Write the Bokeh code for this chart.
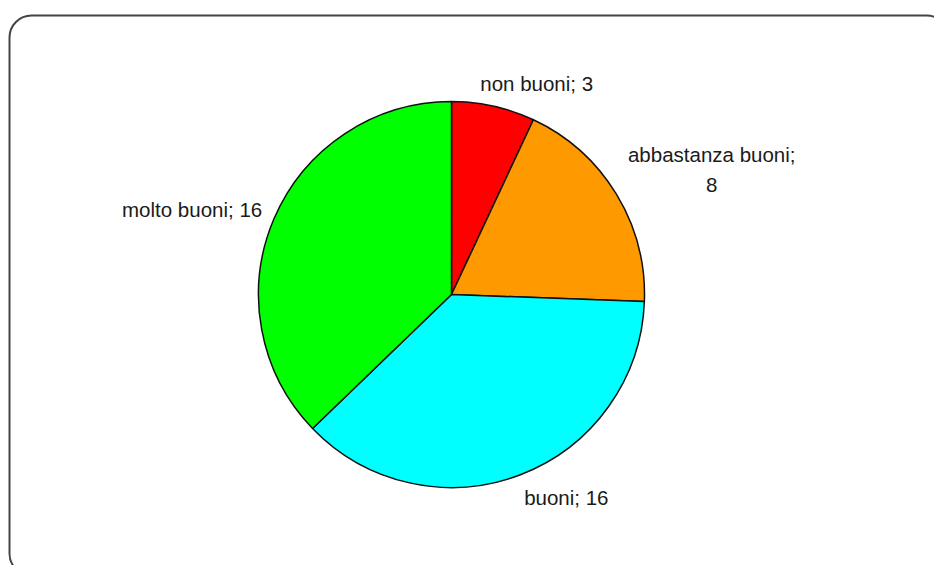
import math
from bokeh.plotting import figure
from bokeh.models import Range1d, ColumnDataSource
from bokeh.core.properties import value
from bokeh.embed import file_html
from bokeh.resources import INLINE

# ---- data ----
categories = ["non buoni", "abbastanza buoni", "buoni", "molto buoni"]
counts = [3, 8, 16, 16]
colors = ["#FF0000", "#FF9900", "#00FFFF", "#00FF00"]
label_texts = ["non buoni; 3", "abbastanza buoni;\n8", "buoni; 16", "molto buoni; 16"]
# label offsets in screen pixels (x right, y down) from the mid-angle anchor
label_dx = [39, 79, 39, -64]
label_dy = [-4, -14, 5, -2]

W, H = 934, 565
p = figure(width=W, height=H, output_backend="svg", toolbar_location=None,
           x_range=Range1d(0, W), y_range=Range1d(0, H), min_border=0)
p.axis.visible = False
p.grid.visible = False
p.outline_line_color = None
p.background_fill_color = "white"
p.border_fill_color = "white"

# rounded outer border
p.quad(left=9, right=948, top=550, bottom=-10, fill_color=None,
       line_color="#444444", line_width=2, border_radius=22)

cx, cy, R = 451, 271, 193
total = sum(counts)
starts, ends, mids = [], [], []
a = math.pi / 2
for c in counts:
    sweep = c / total * 2 * math.pi
    starts.append(a)
    ends.append(a - sweep)
    mids.append(a - sweep / 2)
    a -= sweep

src = ColumnDataSource(dict(start=starts, end=ends, color=colors, cat=categories))
p.wedge(x=cx, y=cy, radius=R, radius_units="screen", start_angle="start", end_angle="end",
        direction="clock", fill_color="color", line_color="#111111", line_width=1.5, source=src)

lx = [cx + 1.1 * R * math.cos(m) + dx for m, dx in zip(mids, label_dx)]
ly = [cy + 1.1 * R * math.sin(m) - dy for m, dy in zip(mids, label_dy)]
p.text(x=lx, y=ly, text=label_texts, text_font=value("Liberation Sans"),
       text_font_size="20.5px", text_color="#1a1a1a", text_align="center",
       text_baseline="middle", text_line_height=1.3)

open("out.html", "w").write(file_html(p, INLINE))
